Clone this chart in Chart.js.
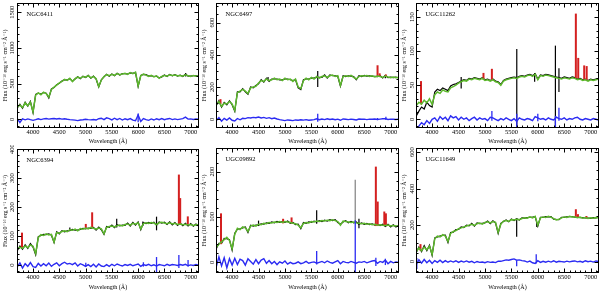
<!DOCTYPE html>
<html><head><meta charset="utf-8">
<script src="https://cdn.jsdelivr.net/npm/chart.js@4.4.1/dist/chart.umd.min.js"></script>
<style>
html,body{margin:0;padding:0;background:#fff;width:600px;height:291px;overflow:hidden;position:relative}
canvas{position:absolute}
</style></head><body>
<canvas id="c0" width="200" height="145" style="left:0px;top:0px"></canvas>
<canvas id="c1" width="200" height="145" style="left:200px;top:0px"></canvas>
<canvas id="c2" width="200" height="145" style="left:400px;top:0px"></canvas>
<canvas id="c3" width="200" height="146" style="left:0px;top:145px"></canvas>
<canvas id="c4" width="200" height="146" style="left:200px;top:145px"></canvas>
<canvas id="c5" width="200" height="146" style="left:400px;top:145px"></canvas>
<script>
// ---------- data ----------
const wave = [3700,3750,3800,3850,3900,3950,4000,4050,4100,4150,4200,4250,4300,4350,4400,4450,4500,4550,4600,4650,4700,4750,4800,4850,4900,4950,5000,5050,5100,5150,5200,5250,5300,5350,5400,5450,5500,5550,5600,5650,5700,5750,5800,5850,5900,5950,6000,6050,6100,6150,6200,6250,6300,6350,6400,6450,6500,6550,6600,6650,6700,6750,6800,6850,6900,6950,7000,7050,7100,7150];
const xTicks = [4000,4500,5000,5500,6000,6500,7000];
const names = ["NGC6411","NGC6497","UGC11262","NGC6394","UGC09892","UGC11649"];

// NGC6411
const mod1 = [170,200,165,230,190,240,105,340,370,345, 380,360,310,420,450,480,510,530,560,545, 575,530,570,590,575,600,590,610,580,600, 570,460,550,600,625,610,630,615,640,625, 635,645,630,655,640,660,470,610,635,620, 600,615,595,610,575,600,615,605,625,615, 620,610,615,605,625,610,600,615,605,612];
const obs1 = [160,210,155,240,185,250,95,350,365,355, 375,365,300,425,445,485,505,535,555,550, 570,535,565,595,570,605,585,615,575,605, 565,455,555,595,630,605,635,610,645,620, 640,640,635,650,645,655,460,615,630,625, 605,610,600,605,580,595,620,600,630,610, 625,605,620,600,630,605,605,610,610,608];
const res1 = [10,-45,5,-8,6,-5,-15,-5,8,-4, 6,10,2,8,12,5,10,3,8,0, -5,-8,-12,-18,-10,-6,0,-5,-8,-3, -10,8,15,-5,20,10,-8,15,-5,12, -10,8,-6,10,-12,-20,60,-30,10,-5, -15,5,-10,8,-5,10,-6,5,12,-4, 6,-5,3,10,30,2,5,-3,4,2];
const red1 = [];
const blk1 = [[6905,600,650]];
const gry1 = [];
const blu1 = [[6000,-40,80]];
const yTicks1 = [0,500,1000,1500];

// NGC6497
const mod2 = [90,110,80,100,95,110,95,55,165,175, 185,175,160,195,200,205,225,240,235,250, 240,245,255,245,250,240,255,245,250,235, 250,200,190,240,255,245,260,250,265,255, 265,270,260,270,275,265,270,210,265,270, 265,272,260,250,265,270,268,272,265,270, 262,268,265,260,268,262,258,262,258,260];
const obs2 = [85,115,75,105,90,115,90,50,170,170, 190,170,155,200,195,210,220,245,230,255, 235,250,250,250,245,245,250,250,245,240, 245,195,185,245,250,250,255,255,260,260, 260,275,255,275,270,270,265,205,270,265, 270,268,265,245,270,265,272,268,270,266, 266,264,270,256,272,258,262,258,262,256];
const res2 = [-8,10,-12,6,-5,8,-6,-10,5,-3, 6,4,10,8,12,10,14,8,12,6, 10,4,8,2,-2,-5,-8,-4,-6,-8, -4,-6,-3,-5,-2,-6,-4,-2,3,-3, 2,-2,3,-1,2,-3,1,-6,2,0, -2,1,-1,-4,2,0,1,-2,1,0, 2,-1,1,3,4,-1,1,0,-1,1];
const red2 = [[3780,95,125],[6752,262,335],[6792,265,285],[6910,262,278]];
const blk2 = [[5620,200,300],[4680,240,262],[6900,255,272]];
const gry2 = [];
const blu2 = [[5620,-15,35],[6910,-5,15],[6752,-5,8]];
const yTicks2 = [0,200,400,600];

// UGC11262
const mod3 = [20,25,22,28,24,30,22,36,40,38, 43,41,40,46,48,50,53,55,57,56, 59,58,60,59,58,60,57,58,56,58, 55,54,50,56,58,59,60,61,60,62, 63,62,64,65,63,66,58,64,63,65, 64,63,62,61,60,59,61,60,59,61, 60,58,59,57,58,56,58,57,58,59];
const obs3 = [5,12,18,15,25,20,18,40,44,42, 46,44,42,49,51,52,54,56,58,57, 60,59,61,60,59,61,58,59,57,59, 56,55,51,57,59,60,61,62,61,63, 64,63,65,66,64,67,59,65,64,66, 65,64,63,62,61,60,62,61,60,62, 61,59,60,58,59,57,59,58,59,60];
const res3 = [-20,-10,-5,-8,-2,-6,0,2,-3,4, 0,3,-2,5,2,4,-1,3,0,2, -2,1,3,-1,2,0,1,-2,3,2, 0,-2,1,-1,2,0,-2,1,-3,2, 0,-1,1,0,-2,4,2,0,1,-1, 2,0,-1,3,1,0,2,-1,1,0, 2,3,0,-1,1,0,-1,1,0,-1];
const red3 = [[3790,22,56],[4972,58,68],[5131,57,74],[6720,60,155],[6765,60,90],[6878,58,79],[6925,57,78]];
const blk3 = [[5602,-13,103],[6333,-13,108],[6400,40,75],[5940,55,68],[4550,45,62]];
const gry3 = [];
const blu3 = [[5131,-2,12],[5602,-13,8],[6333,-13,5],[6400,-2,17],[6000,-3,8]];
const yTicks3 = [0,50,100,150];

// NGC6394
const mod4 = [55,62,58,66,60,70,65,40,95,105, 102,108,104,106,80,112,110,116,118,115, 122,120,124,118,126,124,128,125,130,127, 124,128,125,108,130,133,135,132,136,138, 135,140,142,138,144,141,146,125,143,146, 144,147,145,140,146,148,145,143,146,142, 144,140,142,139,141,138,140,137,139,138];
const obs4 = [50,66,55,70,58,74,62,36,98,102, 106,105,108,103,78,115,108,119,115,118, 119,123,121,121,123,127,125,128,127,130, 121,131,122,106,133,130,138,129,139,135, 138,137,145,135,147,138,149,122,146,143, 147,144,148,137,149,145,148,140,149,139, 147,137,145,136,144,135,143,134,142,135];
const res4 = [-6,8,-10,5,-4,9,-5,-8,6,-3, 5,-2,7,-4,3,8,-2,5,10,4, 6,2,8,-3,5,1,-4,2,-5,3, -6,4,-3,-5,2,-4,3,-2,4,0, -3,2,-1,3,-2,1,4,-4,2,-1, 3,-2,1,-3,2,0,-2,3,-1,2, 1,-1,2,0,3,-2,1,-1,2,0];
const red4 = [[3790,60,112],[5004,126,142],[5125,128,182],[6775,142,312],[6800,142,231],[6945,140,168]];
const blk4 = [[5592,130,160],[6350,120,167],[6090,135,150],[4700,118,130]];
const gry4 = [];
const blu4 = [[6350,-30,28],[6775,-10,35],[6950,-5,18],[6100,-5,10],[5004,-5,8]];
const yTicks4 = [0,100,200,300,400];

// UGC09892
const mod5 = [33,40,45,50,55,48,30,62,75,72, 78,76,68,80,82,80,84,83,86,85, 88,87,89,88,90,88,90,89,88,86, 85,82,76,86,88,87,90,89,91,90, 92,91,93,92,94,92,90,82,91,90, 89,88,89,87,86,85,86,84,85,83, 84,82,83,82,81,82,80,81,80,80];
const obs5 = [30,42,42,53,52,50,27,64,73,74, 76,78,66,82,80,82,82,85,84,87, 86,89,87,90,88,90,88,91,86,88, 83,84,74,88,86,89,88,91,89,92, 90,93,91,94,92,94,88,84,89,92, 87,90,87,89,84,87,84,86,83,85, 82,84,81,84,79,84,78,83,78,82];
const res5 = [-10,12,-8,10,-12,8,-6,9,-5,7, 4,-6,8,2,-4,6,-3,5,8,-2, 4,-3,2,-5,1,-2,3,-4,0,-3, -2,1,-3,-1,2,-2,0,1,-2,0, 2,-1,3,0,-2,1,4,-3,2,0, -1,2,0,-2,1,0,2,-1,1,3, 4,-2,2,0,5,-3,2,-1,1,0];
const red5 = [[3790,40,108],[4965,86,96],[5125,86,99],[6720,80,211],[6755,80,134],[6880,80,112],[6910,80,108]];
const blk5 = [[5600,85,115],[6400,75,96],[4500,80,92]];
const gry5 = [[6330,85,182]];
const blu5 = [[6330,-24,93],[5600,-5,25],[6720,-8,10],[6900,-6,8]];
const yTicks5 = [0,100,200];

// UGC11649
const mod6 = [55,75,60,80,65,85,40,125,140,135, 148,140,110,155,165,170,180,185,190,195, 200,205,198,208,212,205,215,218,212,220, 215,160,205,222,225,220,230,228,232,230, 236,240,238,245,240,248,200,240,245,242, 248,244,236,228,232,240,245,242,248,244, 246,240,244,238,242,236,240,238,242,240];
const obs6 = [50,80,55,88,60,90,35,130,136,140, 144,145,105,160,162,175,176,190,186,200, 196,210,195,212,208,210,212,222,208,224, 212,155,210,220,228,218,233,225,235,228, 240,238,241,243,244,246,195,243,242,246, 245,247,233,231,230,243,242,245,246,247, 243,243,241,241,239,239,237,241,239,243];
const res6 = [-15,10,-8,12,-6,8,-10,6,-4,8, -5,6,-3,4,-2,5,-4,3,-2,4, -3,2,-6,1,-4,-2,-6,0,-4,-2, -5,3,2,6,10,8,12,15,8,10, 6,4,-2,3,-6,-10,5,-4,2,-3, 3,-2,5,-3,2,0,-2,3,-1,2, 4,-1,2,-3,5,0,3,-2,4,1];
const red6 = [[3780,60,96],[6720,245,287],[6760,240,260],[6920,238,250]];
const blk6 = [[5600,136,230],[5980,190,210]];
const gry6 = [];
const blu6 = [[5970,-10,40],[5600,-25,5],[3710,-40,20]];
const yTicks6 = [0,200,400,600];

// ---------- drawing ----------
const FAM = '"Liberation Serif", "DejaVu Serif", serif';
const GREEN = '#5cb82c', BLUE = '#2b2bf2', RED = '#d42020';

const deco = {
  id: 'deco',
  afterDatasetsDraw(chart) {
    const o = chart.options.plugins.deco;
    const {ctx, chartArea: a, scales: {x, y}} = chart;
    ctx.save();
    ctx.strokeStyle = '#000'; ctx.lineWidth = 1;
    const L = Math.round(a.left) + 0.5, R = Math.round(a.right) - 0.5;
    const T = Math.round(a.top) + 0.5, B = Math.round(a.bottom) - 0.5;
    ctx.strokeRect(L, T, R - L, B - T);
    ctx.beginPath();
    for (let v = 3700; v <= 7100; v += 100) {
      const px = Math.round(x.getPixelForValue(v)) + 0.5;
      const len = v % 500 === 0 ? 4 : 2;
      ctx.moveTo(px, B); ctx.lineTo(px, B - len);
      ctx.moveTo(px, T); ctx.lineTo(px, T + len);
    }
    const s = o.minor, M = o.major;
    for (let v = Math.ceil(y.min / s) * s; v <= y.max; v += s) {
      const py = Math.round(y.getPixelForValue(v)) + 0.5;
      const len = (v % M === 0) ? 4 : 2;
      ctx.moveTo(L, py); ctx.lineTo(L + len, py);
      ctx.moveTo(R, py); ctx.lineTo(R - len, py);
    }
    ctx.stroke();
    ctx.fillStyle = '#000';
    ctx.font = '6.5px ' + FAM;
    ctx.textBaseline = 'middle'; ctx.textAlign = 'left';
    ctx.fillText(o.name, a.left + 9.5, a.top + 11);
    ctx.restore();
  }
};

const measurer = document.createElement('canvas').getContext('2d');
function yPad(ticks, dist) {
  measurer.font = '6.5px ' + FAM;
  const w = Math.max(...ticks.map(t => measurer.measureText(String(t)).width));
  return dist - w / 2;
}

function lineDs(arr, color, order, bw) {
  return {type: 'line', data: wave.map((w, i) => ({x: w, y: arr[i]})), borderColor: color,
    borderWidth: bw, pointRadius: 0, tension: 0, fill: false, order: order, clip: 0};
}
function spikeDs(arr, color, order, th) {
  return {type: 'bar', data: arr.map(s => ({x: s[0], y: [s[1], s[2]]})), backgroundColor: color,
    borderWidth: 0, inflateAmount: 0, barThickness: th, grouped: false, order: order, clip: 0};
}

const panels = [
  {id: 'c0', obs: obs1, mod: mod1, res: res1, red: red1, blk: blk1, gry: gry1, blu: blu1, yt: yTicks1, min: -122, max: 1630, major: 500, minor: 100, col: 0, row: 0},
  {id: 'c1', obs: obs2, mod: mod2, res: res2, red: red2, blk: blk2, gry: gry2, blu: blu2, yt: yTicks2, min: -54, max: 721, major: 200, minor: 50, col: 1, row: 0},
  {id: 'c2', obs: obs3, mod: mod3, res: res3, red: red3, blk: blk3, gry: gry3, blu: blu3, yt: yTicks3, min: -12.8, max: 170.5, major: 50, minor: 10, col: 2, row: 0},
  {id: 'c3', obs: obs4, mod: mod4, res: res4, red: red4, blk: blk4, gry: gry4, blu: blu4, yt: yTicks4, min: -27, max: 400, major: 100, minor: 20, col: 0, row: 1},
  {id: 'c4', obs: obs5, mod: mod5, res: res5, red: red5, blk: blk5, gry: gry5, blu: blu5, yt: yTicks5, min: -23.5, max: 252, major: 100, minor: 20, col: 1, row: 1},
  {id: 'c5', obs: obs6, mod: mod6, res: res6, red: red6, blk: blk6, gry: gry6, blu: blu6, yt: yTicks6, min: -62, max: 622, major: 200, minor: 50, col: 2, row: 1}
];

panels.forEach((p, k) => {
  const yw = p.col === 0 ? 17 : 16;
  const xh = p.row === 0 ? 17 : 18;
  const tickFont = {family: FAM, size: 6.5};
  const titleFont = {family: FAM, size: 6};
  new Chart(document.getElementById(p.id), {
    type: 'line',
    data: {
      datasets: [
        lineDs(p.obs, '#000000', 9, 1.2),
        spikeDs(p.gry, '#8a8a8a', 8, 1.3),
        spikeDs(p.blk, '#000000', 7, 1.2),
        spikeDs(p.red, RED, 6, 2),
        lineDs(p.mod, GREEN, 5, 1.5),
        lineDs(p.res, BLUE, 4, 1.4),
        spikeDs(p.blu, BLUE, 3, 1.3)
      ]
    },
    options: {
      responsive: false, animation: false, devicePixelRatio: 1,
      events: [],
      layout: {padding: {top: 3, right: 1, left: 0, bottom: 0}},
      plugins: {legend: {display: false}, tooltip: {enabled: false},
        deco: {name: names[k], major: p.major, minor: p.minor}},
      scales: {
        x: {
          type: 'linear', min: 3695, max: 7158, offset: false,
          grid: {display: false, drawTicks: false}, border: {display: false},
          ticks: {font: tickFont, color: '#000', padding: 0, autoSkip: false, maxRotation: 0, minRotation: 0,
            includeBounds: false, callback: v => String(v)},
          afterBuildTicks: s => { s.ticks = xTicks.map(v => ({value: v})); },
          afterFit: s => { s.height = xh; },
          title: {display: true, text: 'Wavelength (Å)', font: titleFont, color: '#000', padding: {top: 0, bottom: 0}}
        },
        y: {
          type: 'linear', min: p.min, max: p.max,
          grid: {display: false, drawTicks: false}, border: {display: false},
          ticks: {font: tickFont, color: '#000', padding: yPad(p.yt, yw - 12), crossAlign: 'center',
            minRotation: 90, maxRotation: 90, autoSkip: false, includeBounds: false, callback: v => String(v)},
          afterBuildTicks: s => { s.ticks = p.yt.map(v => ({value: v})); },
          afterFit: s => { s.width = yw; },
          title: {display: true, text: 'Flux (10⁻¹⁶ erg s⁻¹ cm⁻² Å⁻¹)', font: titleFont, color: '#000',
            padding: {top: p.col === 0 ? 1.4 : 0.4, bottom: 0}}
        }
      }
    },
    plugins: [deco]
  });
});
</script>
</body></html>
